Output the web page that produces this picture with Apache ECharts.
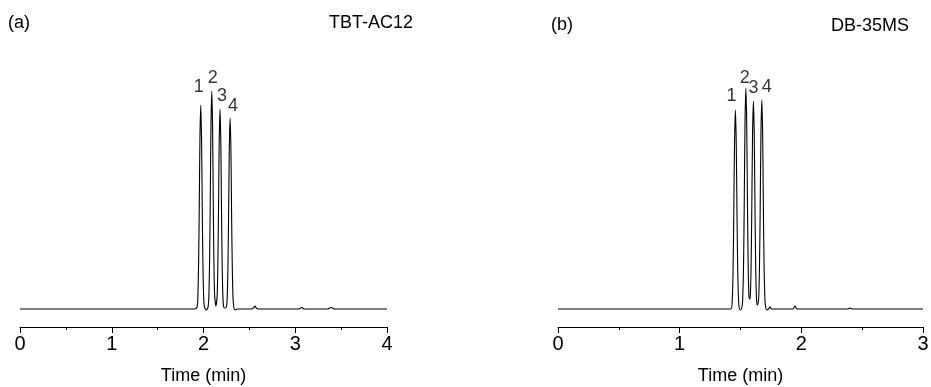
<!DOCTYPE html>
<html>
<head>
<meta charset="utf-8">
<script src="https://cdn.jsdelivr.net/npm/echarts@6/dist/echarts.min.js"></script>
<style>
  html, body { margin: 0; padding: 0; background: #fff; }
  #chart { width: 931px; height: 387px; }
</style>
</head>
<body>
<div id="chart"></div>
<script>
// (a) TBT-AC12 trace, time in min, signal in arbitrary units
const timeA = [0, 1.5, 1.9, 1.93, 1.939, 1.947, 1.954, 1.961, 1.97, 1.979, 1.986, 1.993, 2.001, 2.01, 2.03,
  2.05, 2.059, 2.067, 2.074, 2.081, 2.09, 2.099, 2.106, 2.113, 2.121, 2.135,
  2.149, 2.157, 2.164, 2.171, 2.18, 2.189, 2.196, 2.203, 2.211, 2.22, 2.235,
  2.25, 2.259, 2.267, 2.274, 2.281, 2.29, 2.299, 2.306, 2.313, 2.321, 2.33, 2.345, 2.37,
  2.52, 2.545, 2.56, 2.575, 2.6, 2.8, 3.04, 3.07, 3.1, 3.35, 3.39, 3.43, 4.0];
const signalA = [0, 0, 0, 2, 14, 49, 104, 169, 204, 169, 104, 49, 14, 2, -1,
  2, 15, 52, 111, 181, 218, 181, 111, 52, 15, 3,
  14, 48, 102, 166, 200, 166, 102, 48, 14, 2, 1,
  2, 13, 46, 97, 159, 191, 159, 97, 46, 13, 2, -1, 0,
  0, 1, 3, 1, 0, 0, 0, 1.5, 0, 0, 1.5, 0, 0];

// (b) DB-35MS trace
const timeB = [0, 1.0, 1.42, 1.432, 1.439, 1.445, 1.451, 1.458, 1.465, 1.471, 1.477, 1.484, 1.49, 1.5,
  1.512, 1.518, 1.525, 1.531, 1.537, 1.544, 1.551, 1.557, 1.563, 1.569, 1.575,
  1.581, 1.587, 1.593, 1.599, 1.606, 1.613, 1.619, 1.625, 1.632, 1.64,
  1.645, 1.65, 1.656, 1.662, 1.668, 1.675, 1.682, 1.688, 1.694, 1.701, 1.708, 1.715,
  1.73, 1.743, 1.755, 1.93, 1.948, 1.965, 2.38, 2.4, 2.42, 3.0];
const signalB = [0, 0, 0, 9, 40, 98, 166, 199, 166, 98, 40, 9, 1, -1,
  2, 10, 44, 108, 185, 221, 185, 108, 44, 14, 10,
  14, 42, 102, 174, 208, 174, 102, 42, 9, 4,
  6, 12, 42, 102, 175, 209, 175, 102, 42, 9, 1, -1,
  0, 2, 0, 0, 3, 0, 0, 1, 0, 0];

// peak numbers
const peakNames = ['1', '2', '3', '4'];
const peakTimeA = [1.97, 2.09, 2.18, 2.29];
const peakHeightA = [204, 218, 200, 191];
const peakTimeB = [1.458, 1.544, 1.606, 1.675];
const peakHeightB = [199, 221, 208, 209];

const FONT = "'Liberation Sans', Arial, sans-serif";

const chart = echarts.init(document.getElementById('chart'));

function xAxisFor(gridIndex, max) {
  return {
    type: 'value',
    gridIndex: gridIndex,
    min: 0,
    max: max,
    interval: 1,
    name: 'Time (min)',
    nameLocation: 'middle',
    nameGap: 40,
    nameTextStyle: { color: '#000', fontSize: 18, fontFamily: FONT },
    axisLine: { show: true, onZero: false, lineStyle: { color: '#000', width: 1 } },
    axisTick: { show: true, inside: false, length: 6, lineStyle: { color: '#000' } },
    minorTick: { show: true, splitNumber: 2, length: 3, lineStyle: { color: '#000' } },
    axisLabel: { color: '#000', fontSize: 20, fontFamily: FONT, margin: 7 },
    splitLine: { show: false },
  };
}

function yAxisFor(gridIndex) {
  return {
    type: 'value',
    gridIndex: gridIndex,
    min: -18,
    max: 249,
    show: false,
  };
}

function pairs(xs, ys) {
  return xs.map((x, i) => [x, ys[i]]);
}

function peakLabels(times, heights, nudge) {
  return times.map((t, i) => ({
    value: [t, heights[i]],
    name: peakNames[i],
    label: { offset: nudge[i] },
  }));
}

const labelStyle = {
  show: true,
  position: 'top',
  distance: 4,
  formatter: (p) => p.name,
  color: '#000',
  fontSize: 18,
  fontFamily: FONT,
};

const option = {
  animation: false,
  grid: [
    { left: 20, top: 60, width: 367, height: 267, outerBoundsMode: 'none', containLabel: false },
    { left: 558, top: 60, width: 365, height: 267, outerBoundsMode: 'none', containLabel: false },
  ],
  xAxis: [xAxisFor(0, 4), xAxisFor(1, 3)],
  yAxis: [yAxisFor(0), yAxisFor(1)],
  graphic: [
    { type: 'text', left: 8, top: 14, style: { text: '(a)', fill: '#000', font: '18px ' + FONT } },
    { type: 'text', left: 329, top: 14, style: { text: 'TBT-AC12', fill: '#000', font: '18px ' + FONT } },
    { type: 'text', left: 551, top: 16, style: { text: '(b)', fill: '#000', font: '18px ' + FONT } },
    { type: 'text', left: 831, top: 17, style: { text: 'DB-35MS', fill: '#000', font: '18px ' + FONT } },
  ],
  series: [
    {
      type: 'line',
      xAxisIndex: 0,
      yAxisIndex: 0,
      data: pairs(timeA, signalA),
      showSymbol: false,
      smooth: 0.3,
      lineStyle: { color: '#000', width: 1.1 },
    },
    {
      type: 'line',
      xAxisIndex: 1,
      yAxisIndex: 1,
      data: pairs(timeB, signalB),
      showSymbol: false,
      smooth: 0.3,
      lineStyle: { color: '#000', width: 1.1 },
    },
    {
      type: 'scatter',
      xAxisIndex: 0,
      yAxisIndex: 0,
      symbolSize: 0,
      data: peakLabels(peakTimeA, peakHeightA, [[-2, -5], [1, 0], [2, 0], [3, 1]]),
      label: labelStyle,
    },
    {
      type: 'scatter',
      xAxisIndex: 1,
      yAxisIndex: 1,
      symbolSize: 0,
      data: peakLabels(peakTimeB, peakHeightB, [[-4, -1], [-1, 3], [0, 0], [5, 0]]),
      label: labelStyle,
    },
  ],
};

chart.setOption(option);
</script>
</body>
</html>
